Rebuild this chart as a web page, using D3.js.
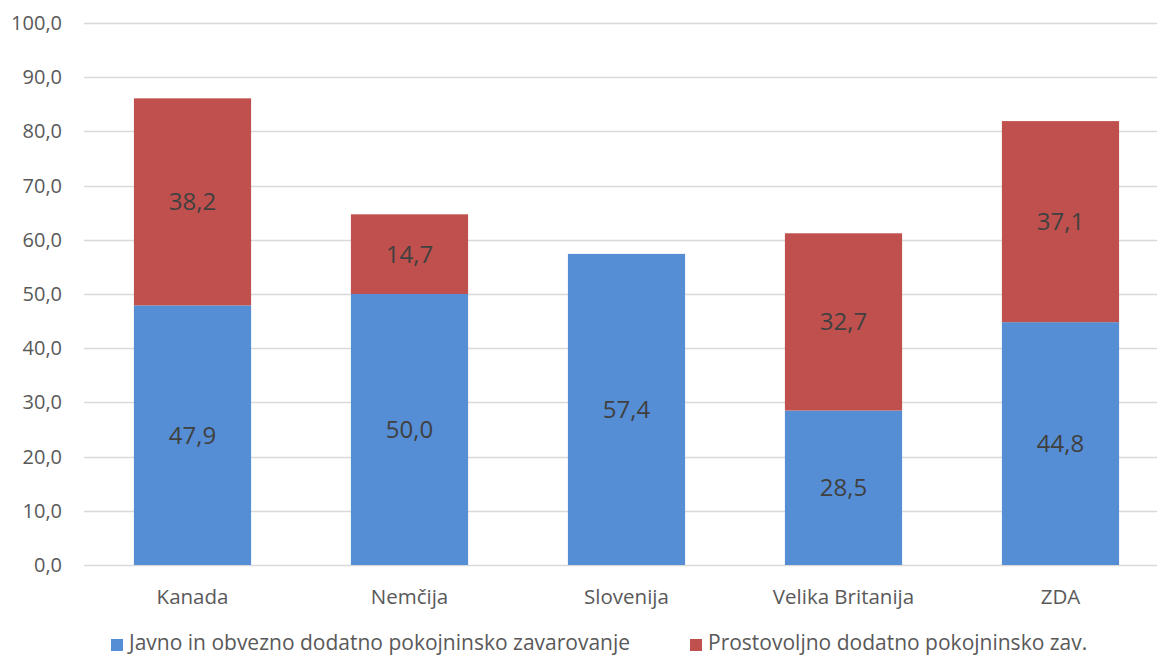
<!DOCTYPE html>
<html>
<head>
<meta charset="utf-8">
<script src="https://cdn.jsdelivr.net/npm/d3@7"></script>
<style>
  body { margin: 0; background: #fff; overflow: hidden; }
  svg { display: block; font-family: "Open Sans", "Noto Sans", sans-serif; }
</style>
</head>
<body>
<script>
var w = 1157, h = 656;

var countries = ["Kanada", "Nemčija", "Slovenija", "Velika Britanija", "ZDA"];
var javno = [47.9, 50.0, 57.4, 28.5, 44.8];
var prostovoljno = [38.2, 14.7, 0, 32.7, 37.1];
var seriesNames = ["Javno in obvezno dodatno pokojninsko zavarovanje", "Prostovoljno dodatno pokojninsko zav."];
var colors = ["#558ed5", "#c0504d"];
var yTicks = [0, 10, 20, 30, 40, 50, 60, 70, 80, 90, 100];

var fmt = function(v) { return v.toFixed(1).replace(".", ","); };

var svg = d3.select("body").append("svg")
  .attr("width", w)
  .attr("height", h);

var x = d3.scaleBand()
  .domain(countries)
  .range([84, 1169])
  .paddingInner(0.46)
  .paddingOuter(0.23);

var y = d3.scaleLinear()
  .domain([0, 100])
  .range([565, 23]);

// gridlines
svg.append("g")
  .selectAll("line")
  .data(yTicks)
  .enter().append("line")
    .attr("x1", 84)
    .attr("x2", w)
    .attr("y1", function(d) { return Math.round(y(d)) + 0.5; })
    .attr("y2", function(d) { return Math.round(y(d)) + 0.5; })
    .attr("stroke", "#d9d9d9")
    .attr("stroke-width", 1.3);

// y tick labels
svg.append("g")
  .selectAll("text")
  .data(yTicks)
  .enter().append("text")
    .attr("x", 62)
    .attr("y", function(d) { return y(d); })
    .attr("dy", "0.35em")
    .attr("text-anchor", "end")
    .attr("font-size", 20)
    .attr("fill", "#595959")
    .text(fmt);

// stacked data
var rows = countries.map(function(c, i) {
  return { country: c, javno: javno[i], prostovoljno: prostovoljno[i] };
});
var stack = d3.stack().keys(["javno", "prostovoljno"])(rows);

var layer = svg.selectAll("g.layer")
  .data(stack)
  .enter().append("g")
    .attr("class", "layer")
    .attr("fill", function(d, i) { return colors[i]; });

layer.selectAll("rect")
  .data(function(d) { return d.filter(function(s) { return s[1] - s[0] > 0; }); })
  .enter().append("rect")
    .attr("x", function(d) { return x(d.data.country); })
    .attr("width", x.bandwidth())
    .attr("y", function(d) { return y(d[1]); })
    .attr("height", function(d) { return y(d[0]) - y(d[1]); });

layer.selectAll("text")
  .data(function(d) { return d.filter(function(s) { return s[1] - s[0] > 0; }); })
  .enter().append("text")
    .attr("x", function(d) { return x(d.data.country) + x.bandwidth() / 2; })
    .attr("y", function(d) { return (y(d[0]) + y(d[1])) / 2; })
    .attr("dy", "0.35em")
    .attr("text-anchor", "middle")
    .attr("font-size", 24)
    .attr("fill", "#404040")
    .text(function(d) { return fmt(d[1] - d[0]); });

// category labels
svg.append("g")
  .selectAll("text")
  .data(countries)
  .enter().append("text")
    .attr("x", function(d) { return x(d) + x.bandwidth() / 2; })
    .attr("y", 597)
    .attr("dy", "0.35em")
    .attr("text-anchor", "middle")
    .attr("font-size", 20.5)
    .attr("fill", "#595959")
    .text(function(d) { return d; });

// legend
var legendX = [111, 690];
var legend = svg.append("g")
  .selectAll("g")
  .data(seriesNames)
  .enter().append("g")
    .attr("transform", function(d, i) { return "translate(" + legendX[i] + ",0)"; });

legend.append("rect")
  .attr("y", 639)
  .attr("width", 12)
  .attr("height", 12)
  .attr("fill", function(d, i) { return colors[i]; });

legend.append("text")
  .attr("x", 18)
  .attr("y", 650)
  .attr("font-size", 21)
  .attr("fill", "#595959")
  .text(function(d) { return d; });
</script>
</body>
</html>
